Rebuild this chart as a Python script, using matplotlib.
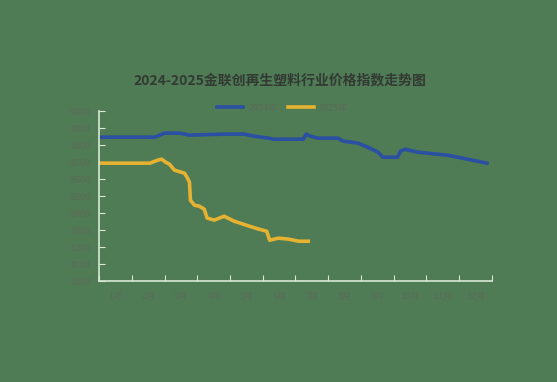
import matplotlib.pyplot as plt

plt.rcParams['font.family'] = ['Noto Sans CJK SC', 'DejaVu Sans']

# month labels (category axis, 12 months)
months = ['1月', '2月', '3月', '4月', '5月', '6月', '7月', '8月', '9月', '10月', '11月', '12月']
yticks = [8000, 8100, 8200, 8300, 8400, 8500, 8600, 8700, 8800, 8900, 9000]

# 2024: position in months from Jan 1, index value
t_2024 = [0.0, 0.94, 1.70, 1.85, 2.0, 2.45, 2.76, 3.82, 4.42, 4.73, 5.18, 5.33, 6.24, 6.33,
          6.45, 6.70, 7.30, 7.45, 7.91, 8.21, 8.52, 8.67, 9.12, 9.21, 9.36, 9.73, 10.64,
          11.09, 11.55, 11.85]
v_2024 = [8847, 8847, 8847, 8859, 8871, 8871, 8859, 8865, 8865, 8853, 8841, 8835, 8835, 8865,
          8853, 8841, 8841, 8824, 8812, 8788, 8759, 8729, 8729, 8765, 8776, 8759, 8741,
          8724, 8706, 8694]

# 2025
t_2025 = [0.0, 1.55, 1.79, 1.91, 2.03, 2.15, 2.30, 2.61, 2.70, 2.76, 2.79, 2.91, 3.06, 3.21,
          3.30, 3.52, 3.82, 4.12, 4.58, 4.88, 5.12, 5.21, 5.48, 5.79, 6.09, 6.39]
v_2025 = [8694, 8694, 8712, 8718, 8700, 8688, 8653, 8635, 8606, 8582, 8476, 8447, 8441, 8424,
          8371, 8359, 8382, 8353, 8324, 8306, 8294, 8241, 8253, 8247, 8235, 8235]

bg = '#4f7b55'
axis_col = '#d9e9d3'
txt_col = '#5d6b58'

fig = plt.figure(figsize=(5.57, 3.82), dpi=100, facecolor=bg)
ax = fig.add_axes([0.178, 0.264, 0.705, 0.445], facecolor=bg)

ax.plot(t_2024, v_2024, color='#2b4fa3', lw=2.6, label='2024年', solid_joinstyle='round')
ax.plot(t_2025, v_2025, color='#e6b232', lw=2.6, label='2025年', solid_joinstyle='round')

ax.set_xlim(0, 12)
ax.set_ylim(8000, 9000)
ax.set_xticks(range(13))
ax.set_xticklabels([])
ax.set_xticks([i + 0.5 for i in range(12)], minor=True)
ax.set_xticklabels(months, minor=True)
ax.tick_params(axis='x', which='minor', length=0, pad=8, labelsize=6.5, colors=txt_col)
ax.tick_params(axis='x', which='major', direction='in', length=4, color=axis_col)
ax.set_yticks(yticks)
ax.tick_params(axis='y', direction='in', length=4, color=axis_col, labelsize=6.5,
               labelcolor=txt_col, pad=6)

for s in ['top', 'right']:
    ax.spines[s].set_visible(False)
for s in ['left', 'bottom']:
    ax.spines[s].set_color(axis_col)
    ax.spines[s].set_linewidth(1.2)

fig.text(0.503, 0.79, '2024-2025金联创再生塑料行业价格指数走势图', ha='center', va='center',
         fontsize=10, color='#333a33', fontweight='bold')

leg = fig.legend(loc='center', bbox_to_anchor=(0.508, 0.717), ncol=2, frameon=False,
                 fontsize=6.5, handlelength=2.8, columnspacing=1.2, handletextpad=0.6)
for t in leg.get_texts():
    t.set_color(txt_col)

fig.savefig('out.png', dpi=100, facecolor=bg)
